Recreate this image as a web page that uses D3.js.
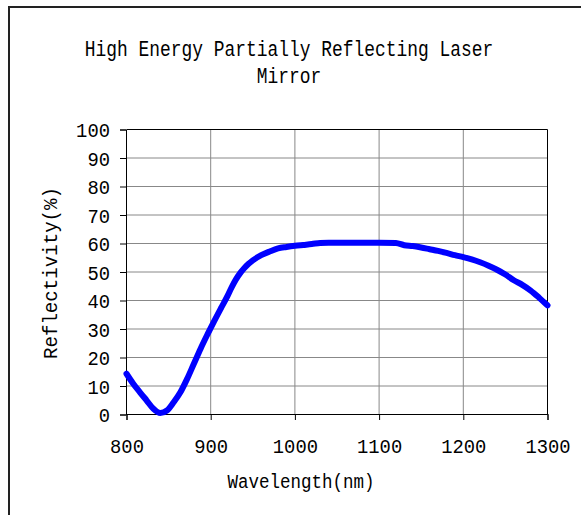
<!DOCTYPE html>
<html>
<head>
<meta charset="utf-8">
<script src="https://cdn.jsdelivr.net/npm/d3@7"></script>
<style>
  body { margin: 0; background: #fff; }
  text { font-family: "Liberation Mono", "DejaVu Sans Mono", monospace; fill: #000; }
</style>
</head>
<body>
<svg id="chart" width="581" height="515"></svg>
<script>
// data (wavelength nm -> reflectivity %)
var wavelength = [800, 808, 816, 824, 832, 840, 848, 856, 864, 872, 880, 888, 896, 904, 912, 920,
                  925, 930, 935, 940, 945, 950, 960, 970, 980, 990, 1000, 1010, 1020, 1030, 1040,
                  1060, 1080, 1100, 1120, 1130, 1140, 1150, 1160, 1170, 1180, 1190, 1200, 1210,
                  1220, 1230, 1240, 1250, 1260, 1270, 1280, 1290, 1300];
var reflectivity = [14.3, 10.8, 7.8, 4.9, 2.0, 0.5, 1.4, 4.3, 7.8, 12.5, 17.8, 23.1, 28.0, 32.7, 37.2, 41.6,
                    44.7, 47.4, 49.6, 51.4, 52.9, 54.1, 55.9, 57.2, 58.3, 58.8, 59.2, 59.5, 59.8, 60.2, 60.3,
                    60.3, 60.3, 60.3, 60.2, 59.4, 59.1, 58.6, 58.0, 57.4, 56.7, 55.9, 55.2, 54.4,
                    53.4, 52.2, 50.8, 49.1, 47.1, 45.5, 43.5, 41.0, 38.3];
var xTicks = [800, 900, 1000, 1100, 1200, 1300];
var yTicks = [0, 10, 20, 30, 40, 50, 60, 70, 80, 90, 100];
var titleLines = ["High Energy Partially Reflecting Laser", "Mirror"];

var chart = {
  margin: { left: 126, top: 129 },
  dimension: { width: 421, height: 285 },
  scale: { x: '', y: '' }
};

var svg = d3.select("#chart");

// outer frame (only left and top edges fall inside the picture)
svg.append("rect")
  .attr("x", 9).attr("y", 7)
  .attr("width", 600).attr("height", 600)
  .attr("fill", "none")
  .attr("stroke", "#222")
  .attr("stroke-width", 2);

// title
svg.selectAll(".title")
  .data(titleLines)
  .enter().append("text")
    .attr("class", "title")
    .attr("x", 289)
    .attr("y", function(d, i){ return 56 + i * 27; })
    .attr("text-anchor", "middle")
    .attr("font-size", "21.5px")
    .attr("textLength", function(d){ return d.length * 10.75; })
    .attr("lengthAdjust", "spacingAndGlyphs")
    .text(function(d){ return d; });

var g = svg.append("g")
  .attr("transform", "translate(" + chart.margin.left + "," + chart.margin.top + ")");

chart.scale.x = d3.scaleLinear().domain([800, 1300]).range([0.5, chart.dimension.width + 0.5]);
chart.scale.y = d3.scaleLinear().domain([0, 100]).range([chart.dimension.height + 0.5, 0.5]);

// grid
g.selectAll(".vgrid")
  .data(xTicks.slice(1, -1))
  .enter().append("line")
    .attr("x1", function(d){ return chart.scale.x(d); })
    .attr("x2", function(d){ return chart.scale.x(d); })
    .attr("y1", chart.scale.y(100))
    .attr("y2", chart.scale.y(0))
    .attr("stroke", "#888");

g.selectAll(".hgrid")
  .data(yTicks.slice(1, -1))
  .enter().append("line")
    .attr("x1", chart.scale.x(800))
    .attr("x2", chart.scale.x(1300))
    .attr("y1", function(d){ return chart.scale.y(d); })
    .attr("y2", function(d){ return chart.scale.y(d); })
    .attr("stroke", "#888");

// top and right frame of the plot
g.append("path")
  .attr("d", "M" + chart.scale.x(800) + "," + chart.scale.y(100) +
             "H" + chart.scale.x(1300) + "V" + chart.scale.y(0))
  .attr("fill", "none")
  .attr("stroke", "#000");

// axes
var xAxis = d3.axisBottom(chart.scale.x).tickValues(xTicks).tickFormat(d3.format("d"))
  .tickSize(6).tickPadding(19);
var yAxis = d3.axisLeft(chart.scale.y).tickValues(yTicks).tickFormat(d3.format("d"))
  .tickSize(6).tickPadding(10);

var xg = g.append("g")
  .attr("transform", "translate(0," + chart.dimension.height + ")")
  .call(xAxis);
var yg = g.append("g").call(yAxis);

[xg, yg].forEach(function(ax){
  ax.select(".domain").attr("stroke", "#000");
  ax.selectAll(".tick line").attr("stroke", "#000");
  ax.selectAll(".tick text")
    .attr("font-family", "Liberation Mono, monospace")
    .attr("font-size", "20px")
    .attr("textLength", function(d){ return String(d).length * 11.3; })
    .attr("lengthAdjust", "spacingAndGlyphs");
});
yg.selectAll(".tick text").attr("dy", "0.36em");

// axis labels
svg.append("text")
  .attr("x", 301)
  .attr("y", 488)
  .attr("text-anchor", "middle")
  .attr("font-size", "20px")
  .attr("textLength", 147)
  .attr("lengthAdjust", "spacingAndGlyphs")
  .text("Wavelength(nm)");

svg.append("text")
  .attr("transform", "translate(57,273) rotate(-90)")
  .attr("text-anchor", "middle")
  .attr("font-size", "20px")
  .attr("textLength", 172)
  .attr("lengthAdjust", "spacingAndGlyphs")
  .text("Reflectivity(%)");

// curve
var points = wavelength.map(function(w, i){ return { w: w, r: reflectivity[i] }; });
var line = d3.line()
  .x(function(d){ return chart.scale.x(d.w); })
  .y(function(d){ return chart.scale.y(d.r); })
  .curve(d3.curveMonotoneX);

g.append("path")
  .datum(points)
  .attr("d", line)
  .attr("fill", "none")
  .attr("stroke", "#0000ff")
  .attr("stroke-width", 6)
  .attr("stroke-linejoin", "round")
  .attr("stroke-linecap", "round");
</script>
</body>
</html>
